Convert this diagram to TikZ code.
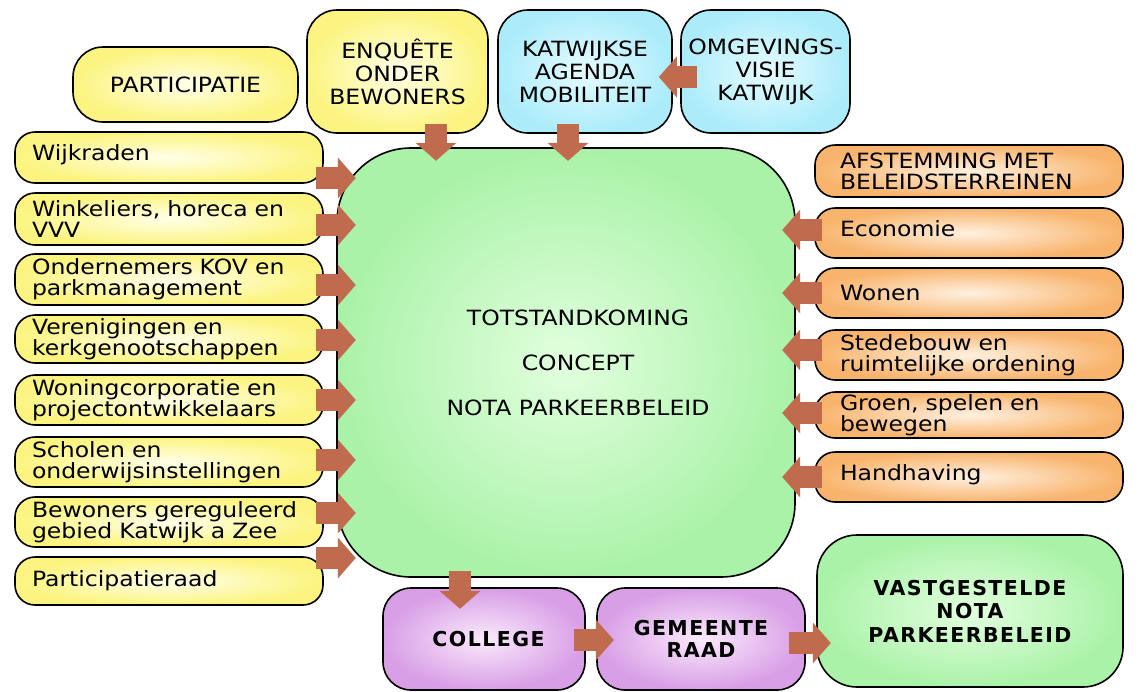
\documentclass[tikz,border=0pt]{standalone}
\usepackage{fontspec}
\setmainfont{DejaVu Sans}[FakeStretch=1.12]
\newfontfamily\boldsp{DejaVu Sans}[LetterSpace=7]
\usetikzlibrary{arrows.meta}
\definecolor{ylw}{RGB}{252,244,128}
\definecolor{ylwin}{RGB}{255,255,232}
\definecolor{blu}{RGB}{172,236,250}
\definecolor{bluin}{RGB}{230,251,255}
\definecolor{grn}{RGB}{170,242,168}
\definecolor{grnin}{RGB}{226,255,222}
\definecolor{org}{RGB}{248,180,108}
\definecolor{orgin}{RGB}{255,240,224}
\definecolor{pur}{RGB}{216,158,230}
\definecolor{purin}{RGB}{250,234,252}
\definecolor{arrowc}{RGB}{192,106,78}
\tikzset{
  basebox/.style={draw=black, line width=1.6pt, inner sep=0pt, font=\fontsize{21}{22}\selectfont},
  sidebox/.style={basebox, rounded corners=20pt, minimum width=308pt, text width=274pt, inner xsep=17pt, align=left, font=\fontsize{21}{21}\selectfont},
  ybox/.style={sidebox, shade, inner color=ylwin, outer color=ylw},
  obox/.style={sidebox, inner xsep=25pt, text width=258pt, shade, inner color=orgin, outer color=org},
  topbox/.style={basebox, rounded corners=30pt, minimum height=123pt, align=center, font=\fontsize{21}{23}\selectfont},
  bbox/.style={basebox, rounded corners=28pt, align=center, font=\boldsp\bfseries\fontsize{20.5}{22}\selectfont},
  barrow/.style={draw=arrowc, line width=22pt, -{Triangle[width=40pt,length=18pt]}},
}
\begin{document}
\begin{tikzpicture}[x=1pt,y=-1pt]
\useasboundingbox[fill=white] (0,0) rectangle (1139,691);

% central box
\node[basebox, rounded corners=74pt, minimum width=458pt, minimum height=429pt,
      shade, inner color=grnin, outer color=grn,
      label={[xshift=12pt, align=center, font=\fontsize{21}{22}\selectfont]center:TOTSTANDKOMING\\[23pt]CONCEPT\\[23pt]NOTA PARKEERBELEID}] (C) at (566,362.5) {};

% participatie header
\node[basebox, rounded corners=30pt, minimum width=225pt, minimum height=75pt,
      shade, inner color=ylwin, outer color=ylw] (P) at (185.5,84.5) {PARTICIPATIE};

% top boxes
\node[topbox, minimum width=181pt, shade, inner color=ylwin, outer color=ylw] (T1) at (397.5,71.5) {ENQUÊTE\\ONDER\\BEWONERS};
\node[topbox, minimum width=174pt, shade, inner color=bluin, outer color=blu] (T2) at (585,71.5) {KATWIJKSE\\AGENDA\\MOBILITEIT};
\node[topbox, minimum width=169pt, shade, inner color=bluin, outer color=blu] (T3) at (765.5,71.5) {OMGEVINGS-\\VISIE\\KATWIJK};

% left boxes
\node[ybox, minimum height=51pt, text depth=10pt] (L1) at (169,157.5) {Wijkraden};
\node[ybox, minimum height=52pt] (L2) at (169,219) {Winkeliers, horeca en\\VVV};
\node[ybox, minimum height=51pt] (L3) at (169,279.5) {Ondernemers KOV en\\parkmanagement};
\node[ybox, minimum height=48pt] (L4) at (169,339) {Verenigingen en\\kerkgenootschappen};
\node[ybox, minimum height=50pt] (L5) at (169,400) {Woningcorporatie en\\projectontwikkelaars};
\node[ybox, minimum height=50pt] (L6) at (169,462) {Scholen en\\onderwijsinstellingen};
\node[ybox, minimum height=50pt] (L7) at (169,522) {Bewoners gereguleerd\\gebied Katwijk a Zee};
\node[ybox, minimum height=48pt] (L8) at (169,581) {Participatieraad};

% right boxes
\node[obox, minimum height=52pt] (R0) at (969,171) {AFSTEMMING MET\\BELEIDSTERREINEN};
\node[obox, minimum height=50pt, text depth=8pt] (R1) at (969,233) {Economie};
\node[obox, minimum height=50pt] (R2) at (969,293) {Wonen};
\node[obox, minimum height=50pt] (R3) at (969,355) {Stedebouw en\\ruimtelijke ordening};
\node[obox, minimum height=46pt] (R4) at (969,415) {Groen, spelen en\\bewegen};
\node[obox, minimum height=50pt, text depth=8pt] (R5) at (969,477) {Handhaving};

% bottom boxes
\node[bbox, minimum width=202pt, minimum height=102pt, shade, inner color=purin, outer color=pur] (B1) at (484,639) {\hspace*{9pt}COLLEGE};
\node[bbox, minimum width=208pt, minimum height=102pt, shade, inner color=purin, outer color=pur] (B2) at (701,639) {GEMEENTE\\RAAD};
\node[bbox, rounded corners=40pt, minimum width=306pt, minimum height=152pt, shade, inner color=grnin, outer color=grn, font=\boldsp\bfseries\fontsize{20.5}{23.5}\selectfont] (B3) at (970,611) {VASTGESTELDE\\NOTA\\PARKEERBELEID};

% arrows top
\draw[barrow] ([xshift=17pt,yshift=-5.5pt]T3.west) -- ([xshift=-14pt,yshift=-5.5pt]T2.east);
\draw[barrow] ([xshift=38.5pt,yshift=10pt]T1.south) -- ([xshift=38.5pt,yshift=-27pt]T1.south);
\draw[barrow] ([xshift=-17pt,yshift=10pt]T2.south) -- ([xshift=-17pt,yshift=-27pt]T2.south);

% arrows left
\foreach \n/\s in {L1/-20.5, L2/-6, L3/-5.5, L4/-1, L5/0, L6/2, L7/9, L8/23}
  \draw[barrow] ([xshift=-8pt,yshift=\s pt]\n.east) -- ([xshift=32pt,yshift=\s pt]\n.east);

% arrows right
\foreach \n/\s in {R1/3, R2/0, R3/5, R4/2, R5/0}
  \draw[barrow] ([xshift=8pt,yshift=\s pt]\n.west) -- ([xshift=-32pt,yshift=\s pt]\n.west);

% arrows bottom
\draw[barrow] ([xshift=-106pt,yshift=7pt]C.south) -- ([xshift=-106pt,yshift=-31pt]C.south);
\draw[barrow] ([xshift=-12pt,yshift=-1pt]B1.east) -- ([xshift=28pt,yshift=-1pt]B1.east);
\draw[barrow] ([xshift=-17pt,yshift=-4pt]B2.east) -- ([xshift=25pt,yshift=-4pt]B2.east);
\end{tikzpicture}
\end{document}
